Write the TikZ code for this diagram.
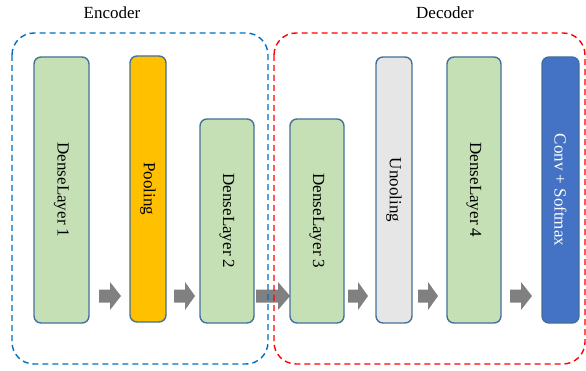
\documentclass[tikz,border=0pt]{standalone}
\usepackage{fontspec}
\setmainfont{Liberation Serif}
\definecolor{lgreen}{HTML}{C5E0B4}
\definecolor{bordblue}{HTML}{41719C}
\definecolor{poolyel}{HTML}{FFC000}
\definecolor{unpgray}{HTML}{E7E6E6}
\definecolor{convblue}{HTML}{4472C4}
\definecolor{encblue}{HTML}{0070C0}
\definecolor{arrgray}{HTML}{808080}
\tikzset{
  layer/.style={draw=bordblue, line width=1.4pt, rounded corners=7pt, rotate=-90,
    inner sep=0pt, font=\fontsize{17}{20}\selectfont},
  greenlayer/.style={layer, fill=lgreen},
  blockarrow/.style={fill=arrgray, draw=none},
  groupbox/.style={dashed, dash pattern=on 6pt off 4pt, line width=1.4pt, rounded corners=22pt},
  grouplabel/.style={font=\fontsize{17}{20}\selectfont}
}
% block arrow: start x, head start x, tip x
\newcommand\myblockarrow[3]{%
  \fill[blockarrow] (#1,289.5) -- (#2,289.5) -- (#2,282) -- (#3,296) -- (#2,310) -- (#2,302.5) -- (#1,302.5) -- cycle;}
\begin{document}
\begin{tikzpicture}[x=1pt,y=-1pt]
\useasboundingbox (0,0) rectangle (586,371);
% block arrows
\myblockarrow{99}{110}{121}
\myblockarrow{174}{185}{195}
\myblockarrow{256}{278}{290}
\myblockarrow{348}{358}{368}
\myblockarrow{418}{428}{438}
\myblockarrow{510}{521}{532}
% group boxes
\draw[groupbox, draw=encblue] (12,33) rectangle (268,364);
\draw[groupbox, draw=red] (274,33) rectangle (585,364);
\node[grouplabel] (enc) at (112,13) {Encoder};
\node[grouplabel] (dec) at (445,13) {Decoder};
% layers
\node[greenlayer, minimum width=266pt, minimum height=55pt] (d1) at (61.5,190) {DenseLayer 1};
\node[layer, fill=poolyel, minimum width=266pt, minimum height=36pt] (pool) at (148,189) {Pooling};
\node[greenlayer, minimum width=204pt, minimum height=54pt] (d2) at (227,221) {DenseLayer 2};
\node[greenlayer, minimum width=204pt, minimum height=54pt] (d3) at (317,221) {DenseLayer 3};
\node[layer, fill=unpgray, minimum width=266pt, minimum height=36pt] (unp) at (394,190) {Unooling};
\node[greenlayer, minimum width=266pt, minimum height=54pt] (d4) at (474,190) {DenseLayer 4};
\node[layer, fill=convblue, text=white, minimum width=266pt, minimum height=37pt] (conv) at (560.5,190) {Conv + Softmax};
\end{tikzpicture}
\end{document}
